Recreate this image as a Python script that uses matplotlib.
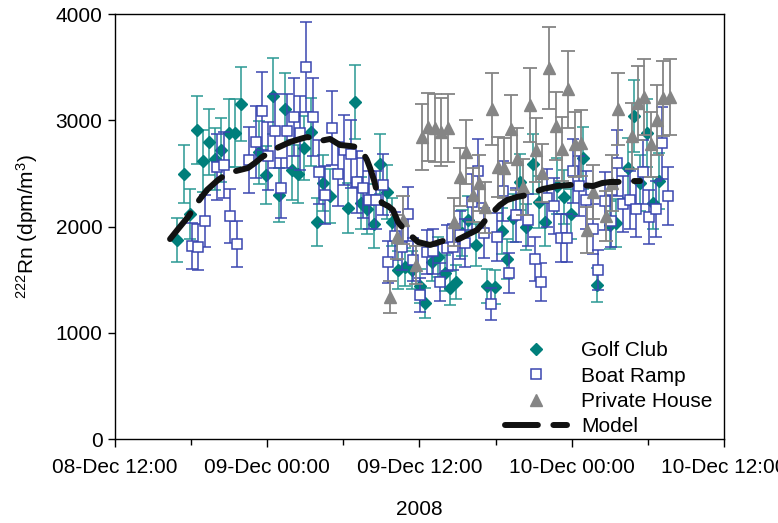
import numpy as np
import pandas as pd
import matplotlib
matplotlib.use('Agg')
import matplotlib.pyplot as plt
import matplotlib.dates as mdates
from matplotlib.lines import Line2D

# hours after 08-Dec-2008 12:00, 222Rn in dpm/m3
start = pd.Timestamp('2008-12-08 12:00')

golf_hours = [4.89, 5.44, 5.91, 6.46, 6.94, 7.41, 7.88, 8.35, 8.99, 9.46, 9.93, 11.35, 11.90,
              12.45, 12.93, 13.40, 13.95, 14.42, 14.90, 15.45, 15.92, 16.39, 16.95, 18.36, 18.92,
              19.39, 19.86, 20.41, 20.89, 21.44, 21.83, 22.31, 22.86, 23.41, 24.04, 24.43, 24.99,
              25.46, 26.01, 26.40, 26.88, 27.35, 27.82, 28.45, 29.32, 29.95, 30.50, 30.90, 31.37,
              31.92, 32.39, 32.95, 33.42, 33.89, 34.84, 35.39, 35.94, 36.89, 37.99, 39.01, 39.49,
              40.43, 40.91, 41.38, 41.93, 42.40, 42.88]
golf_rn = [1873, 2494, 2118, 2908, 2616, 2795, 2635, 2720, 2880, 2880, 3153, 2700, 2485,
           3228, 2296, 3106, 2532, 2494, 2739, 2889, 2042, 2409, 2287, 2174, 3172,
           2221, 2165, 2024, 2588, 2325, 2042, 1591, 1619, 1591, 1440, 1280, 1666,
           1713, 1562, 1421, 1478, 1939, 2061, 1826, 1440, 1431, 1958, 1694, 2080,
           2419, 1995, 2588, 2231, 2042, 2381, 2278, 2118, 2645, 1449, 2014, 2033,
           2551, 3040, 2409, 2880, 2221, 2428]

boat_hours = [6.07, 6.54, 7.09, 8.04, 8.59, 9.06, 9.62, 10.56, 11.11, 11.59, 12.06, 12.61, 13.08,
              13.56, 14.11, 14.58, 15.05, 15.61, 16.08, 16.55, 17.10, 17.58, 18.05, 18.60, 19.07,
              19.55, 20.02, 20.57, 21.12, 21.52, 22.07, 22.62, 23.09, 23.49, 24.04, 24.59, 25.06,
              25.62, 26.17, 26.64, 27.19, 27.59, 28.14, 28.61, 29.08, 29.64, 30.11, 30.58, 31.05,
              31.61, 32.55, 33.10, 33.58, 34.05, 34.60, 35.15, 35.63, 36.10, 36.57, 37.12, 37.68,
              38.07, 38.62, 39.09, 39.57, 40.04, 40.59, 41.06, 41.62, 42.09, 42.64, 43.11, 43.59]
boat_rn = [1816, 1807, 2052, 2560, 2579, 2099, 1835, 2626, 2795, 3087, 2664, 2899, 2362,
           2899, 3031, 2880, 3501, 3031, 2513, 2296, 2927, 2494, 2720, 2682, 2419,
           2362, 2249, 2249, 2391, 1666, 1911, 1807, 2118, 1685, 1355, 1760, 1769,
           1478, 1798, 1807, 1920, 1845, 2231, 2522, 1939, 1271, 1901, 2334, 1562,
           2108, 2061, 1694, 1478, 2268, 2193, 1892, 1892, 2522, 2381, 2249, 1976,
           1591, 2240, 2052, 2598, 2212, 2249, 2165, 2513, 2089, 2165, 2786, 2287]

house_hours = [21.67, 22.23, 22.70, 23.72, 24.20, 24.67, 25.22, 25.69, 26.25, 26.72, 27.19, 27.67,
               28.22, 28.69, 29.16, 29.71, 30.19, 30.66, 31.21, 31.68, 32.16, 32.71, 33.18, 33.66,
               34.21, 34.76, 35.23, 35.70, 36.26, 36.73, 37.20, 37.68, 38.70, 39.17, 39.65, 40.75,
               41.22, 41.69, 42.25, 42.72, 43.19, 43.74]
house_rn = [1336, 1901, 2061, 1638, 2842, 2936, 2927, 2889, 2927, 2042, 2466, 2701,
            2296, 2409, 2183, 3106, 2560, 2551, 2918, 2635, 2372, 3143, 2720, 2504,
            3492, 2946, 2729, 3294, 2776, 2786, 1967, 2325, 2099, 2409, 3106, 2852,
            3162, 3219, 2776, 3002, 3209, 3219]

model_hours = [4.34, 4.97, 5.75, 6.46, 7.25, 8.12, 8.67, 9.22, 9.85, 10.48, 11.03, 11.59, 11.98,
               12.77, 13.79, 14.58, 15.13, 15.61, 16.16, 16.95, 17.73, 18.52, 19.07, 19.55, 19.86,
               20.10, 20.41, 20.65, 21.04, 21.52, 21.91, 22.31, 22.70, 23.09, 23.88, 24.83, 25.85,
               26.96, 27.74, 28.53, 29.01, 29.40, 29.79, 30.34, 30.90, 31.68, 32.47, 33.10, 33.73,
               34.84, 35.86, 36.65, 37.68, 38.39, 39.01, 39.57, 40.59, 41.38]
model_rn = [1882, 1976, 2089, 2221, 2344, 2438, 2485, 2513, 2532, 2551, 2598, 2654, 2682,
            2739, 2795, 2824, 2842, 2833, 2805, 2824, 2767, 2758, 2748, 2692, 2626,
            2551, 2438, 2325, 2221, 2193, 2155, 2042, 1986, 1939, 1854, 1826, 1864,
            1873, 1920, 1967, 2033, 2089, 2136, 2202, 2249, 2278, 2296, 2325, 2353,
            2381, 2391, 2391, 2381, 2409, 2419, 2419, 2428, 2428]

# relative uncertainty of each site
golf_relerr = 0.11
boat_relerr = 0.12
house_relerr = 0.11


def to_time(h):
    return start + pd.to_timedelta(np.array(h), unit='h')


plt.rcParams['font.family'] = ['Liberation Sans', 'DejaVu Sans']
plt.rcParams['mathtext.default'] = 'regular'
plt.rcParams['font.size'] = 15

fig = plt.figure(figsize=(7.78, 5.23), dpi=100)
ax = fig.add_axes([0.1478, 0.1606, 0.7828, 0.8126])

teal = '#007f7b'
teal_bar = '#2a9893'
blue = '#3a46b0'
gray = '#858585'

gx = to_time(golf_hours)
gy = np.array(golf_rn)
ax.errorbar(gx, gy, yerr=gy * golf_relerr, fmt='none', ecolor=teal_bar, elinewidth=1.1,
            capsize=4.5, capthick=1.1, zorder=2)
ax.plot(gx, gy, 'D', color=teal, markersize=6.5, markeredgecolor=teal, zorder=3)

bx = to_time(boat_hours)
by = np.array(boat_rn)
ax.errorbar(bx, by, yerr=by * boat_relerr, fmt='none', ecolor=blue, elinewidth=1.1,
            capsize=4.5, capthick=1.1, zorder=4)
ax.plot(bx, by, 's', markerfacecolor='white', markeredgecolor=blue, markersize=7.5,
        markeredgewidth=1.1, zorder=5)

hx = to_time(house_hours)
hy = np.array(house_rn)
ax.errorbar(hx, hy, yerr=hy * house_relerr, fmt='none', ecolor=gray, elinewidth=1.3,
            capsize=4.8, capthick=1.3, zorder=6)
ax.plot(hx, hy, '^', color=gray, markersize=8, zorder=7)

ax.plot(to_time(model_hours), model_rn, color='#111111', linewidth=4.3,
        dashes=(5.5, 2.6), dash_capstyle='round', zorder=8)

ax.set_xlim(start, start + pd.Timedelta(hours=48))
ax.set_ylim(0, 4000)
ax.set_yticks([0, 1000, 2000, 3000, 4000])
ax.xaxis.set_major_locator(mdates.HourLocator(byhour=[0, 12]))
ax.xaxis.set_minor_locator(mdates.HourLocator(byhour=[6, 18]))
ax.xaxis.set_major_formatter(mdates.DateFormatter('%d-%b %H:%M'))
ax.tick_params(axis='x', which='major', length=6, width=1, pad=8)
ax.tick_params(axis='x', which='minor', length=4, width=1)
ax.tick_params(axis='y', length=5, width=1, pad=4)
for s in ax.spines.values():
    s.set_linewidth(1)

ax.set_xlabel('2008', labelpad=16)
ax.set_ylabel(r'$^{222}$Rn (dpm/m$^3$)', labelpad=11)

handles = [Line2D([], [], linestyle='none', marker='D', color=teal, markersize=6.5),
           Line2D([], [], linestyle='none', marker='s', markerfacecolor='white',
                  markeredgecolor=blue, markersize=7.5, markeredgewidth=1.1),
           Line2D([], [], linestyle='none', marker='^', color=gray, markersize=8),
           Line2D([], [], color='#111111', linewidth=4.3, dashes=(5.5, 2.6),
                  dash_capstyle='round')]
labels = ['Golf Club', 'Boat Ramp', 'Private House', 'Model']
ax.legend(handles, labels, loc='lower left', bbox_to_anchor=(0.63, -0.008), frameon=False,
          handlelength=3, handletextpad=0.65, labelspacing=0.3, borderpad=0.1,
          borderaxespad=0.2, fontsize=15)

fig.savefig('out.png', dpi=100)
